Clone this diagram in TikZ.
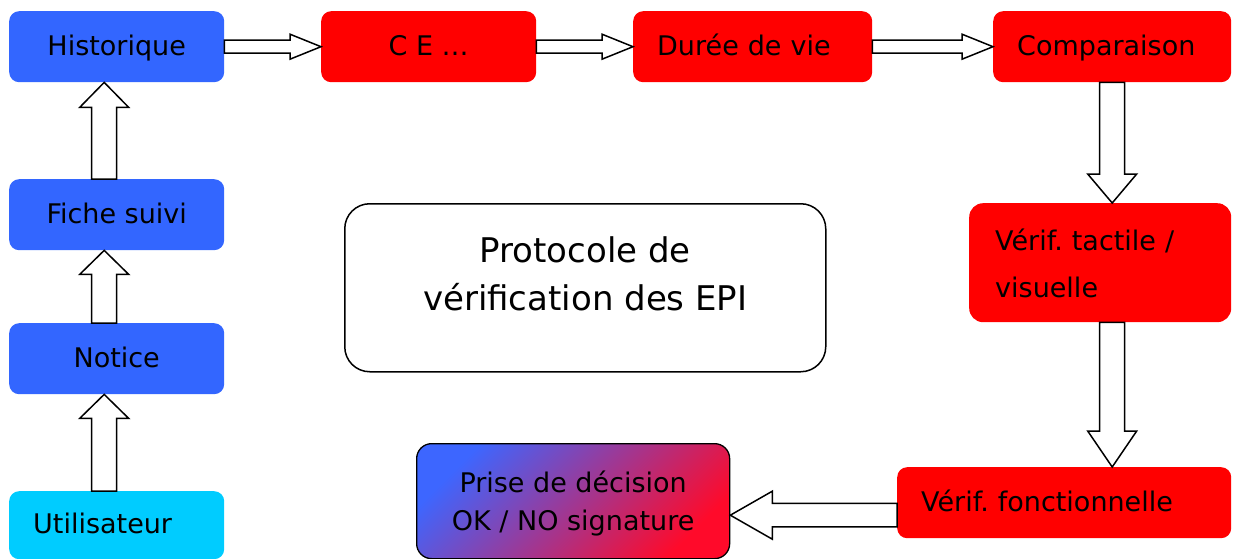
\documentclass[tikz,border=0pt]{standalone}
\usepackage{fontspec}
\setmainfont{DejaVu Sans}
\usetikzlibrary{calc}
\frenchspacing
\definecolor{boxblue}{HTML}{3366FF}
\definecolor{boxred}{HTML}{FF0000}
\definecolor{boxcyan}{HTML}{00CCFF}
\definecolor{gradblue}{HTML}{3D66FF}
\definecolor{gradmid}{HTML}{A852C0}
\definecolor{gradred}{HTML}{FF0A2A}
\tikzset{
  box/.style={anchor=north west, rounded corners=10pt, inner sep=0pt,
    font=\fontsize{27}{32}\selectfont\frenchspacing, text height=20pt, text depth=3pt},
  leftbox/.style={box, inner xsep=24pt, align=left},
  blkarrow/.style={draw=black, fill=white, line width=1.5pt, line join=miter},
}
\newcommand\blockarr[5]{%
  \coordinate (hb) at ($(#2)!#5!(#1)$);
  \draw[blkarrow] ($(#1)!#3!90:(#2)$) -- ($(hb)!#3!90:(#2)$) -- ($(hb)!#4!90:(#2)$)
    -- (#2) -- ($(hb)!#4!-90:(#2)$) -- ($(hb)!#3!-90:(#2)$) -- ($(#1)!#3!-90:(#2)$) -- cycle;
}
\begin{document}
\begin{tikzpicture}[x=1pt,y=-1pt]
\useasboundingbox (0,0) rectangle (1237,559);
\clip (0,0) rectangle (1237,559);
% boxes
\node[box, fill=boxblue, minimum width=215pt, minimum height=71pt] (hist) at (9,11) {Historique};
\node[box, fill=boxred, minimum width=215pt, minimum height=71pt] (ce) at (321,11) {C E …};
\node[leftbox, fill=boxred, text width=191pt, minimum height=71pt] (duree) at (633,11) {Durée de vie};
\node[leftbox, fill=boxred, text width=190pt, minimum height=71pt] (comp) at (993,11) {Comparaison};
\node[box, fill=boxblue, minimum width=215pt, minimum height=71pt] (fiche) at (9,179) {Fiche suivi};
\node[box, fill=boxblue, minimum width=215pt, minimum height=71pt] (notice) at (9,323) {Notice};
\node[leftbox, fill=boxcyan, text width=167pt, minimum height=68pt] (user) at (9,491) {Utilisateur};
\node[anchor=north west, draw=black, line width=1.5pt, fill=white, rounded corners=25pt,
  minimum width=481pt, minimum height=168pt, inner sep=0pt, align=center,
  font=\fontsize{34}{48}\selectfont, text depth=28pt] (proto) at (344,203)
  {Protocole de\\vérification des EPI};
\node[anchor=north west, fill=boxred, rounded corners=14pt, inner sep=0pt, inner xsep=26pt,
  text width=210pt, minimum height=119pt, align=left,
  font=\fontsize{27}{47}\selectfont\frenchspacing, text height=20pt, text depth=45pt] (tact) at (969,203)
  {Vérif. tactile /\\visuelle};
\node[leftbox, fill=boxred, text width=286pt, minimum height=71pt] (fonct) at (897,467) {Vérif. fonctionnelle};
\node[anchor=north west, draw=black, line width=1.3pt, rounded corners=15pt,
  top color=gradblue, middle color=gradmid, bottom color=gradred, shading angle=45,
  minimum width=313pt, minimum height=115pt, inner sep=0pt, align=center,
  font=\fontsize{27}{38}\selectfont, text depth=0pt] (prise) at (416,443)
  {Prise de décision\\OK / NO signature};
% connectors
\blockarr{hist.east}{ce.west}{6.5pt}{12.5pt}{31pt}
\blockarr{ce.east}{duree.west}{6.5pt}{12.5pt}{31pt}
\blockarr{duree.east}{comp.west}{6.5pt}{12.5pt}{31pt}
\coordinate (c1s) at (comp.south);
\coordinate (c1e) at (comp.south |- tact.north);
\blockarr{c1s}{c1e}{12.5pt}{24.5pt}{29pt}
\coordinate (c2s) at (comp.south |- tact.south);
\coordinate (c2e) at (comp.south |- fonct.north);
\blockarr{c2s}{c2e}{12.5pt}{24.5pt}{36pt}
\coordinate (c3s) at ($(fonct.west)+(0,12.5)$);
\coordinate (c3e) at (prise.east |- c3s);
\blockarr{c3s}{c3e}{11.75pt}{24pt}{42pt}
\coordinate (l1s) at ($(fiche.north)+(-12.5,0)$);
\coordinate (l1e) at (l1s |- hist.south);
\blockarr{l1s}{l1e}{12.5pt}{24.5pt}{25pt}
\coordinate (l2s) at ($(notice.north)+(-12.5,0)$);
\coordinate (l2e) at (l2s |- fiche.south);
\blockarr{l2s}{l2e}{12.5pt}{24.5pt}{24pt}
\coordinate (l3s) at ($(user.north)+(-12.5,0)$);
\coordinate (l3e) at (l3s |- notice.south);
\blockarr{l3s}{l3e}{12.5pt}{24.5pt}{24pt}
\end{tikzpicture}
\end{document}
